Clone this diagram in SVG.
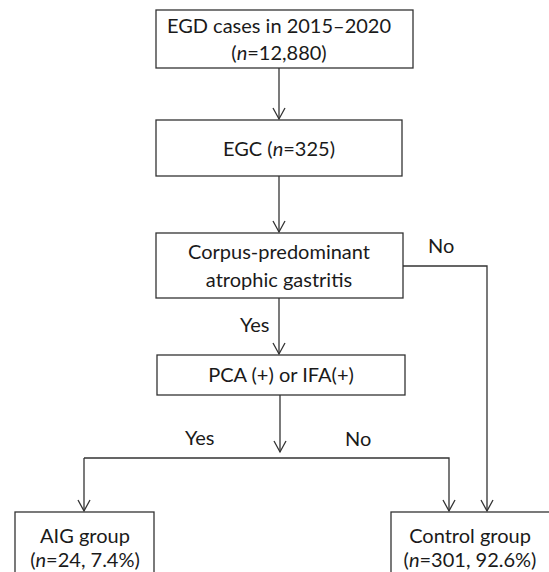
<svg xmlns="http://www.w3.org/2000/svg" width="549" height="572" viewBox="0 0 549 572">
<defs>
<style>
.box{fill:#fff;stroke:#333;stroke-width:1.3}
.ln{fill:none;stroke:#333;stroke-width:1.3}
text{font-family:Lato,"Open Sans",sans-serif;font-size:20px;fill:#1a1a1a;text-anchor:middle}
.lbl{text-anchor:start}
</style>
<marker id="arr" markerWidth="14" markerHeight="14" refX="12" refY="7" orient="auto" markerUnits="userSpaceOnUse">
<path d="M1,1 L12,7 L1,13" fill="none" stroke="#333" stroke-width="1.3"/>
</marker>
</defs>
<rect width="549" height="572" fill="#fff"/>
<g id="connectors">
<line class="ln" x1="279" y1="68" x2="279" y2="119" marker-end="url(#arr)"/>
<line class="ln" x1="279" y1="176" x2="279" y2="232" marker-end="url(#arr)"/>
<line class="ln" x1="279" y1="298" x2="279" y2="354" marker-end="url(#arr)"/>
<polyline class="ln" points="403,266 487,266 487,511" marker-end="url(#arr)"/>
<line class="ln" x1="280" y1="395" x2="280" y2="452" marker-end="url(#arr)"/>
<polyline class="ln" points="84,458 449,458 449,511" marker-end="url(#arr)"/>
<line class="ln" x1="84" y1="458" x2="84" y2="511" marker-end="url(#arr)"/>
<text class="lbl" x="428" y="253">No</text>
<text class="lbl" x="240" y="332">Yes</text>
<text class="lbl" x="185" y="445">Yes</text>
<text class="lbl" x="345" y="446">No</text>
</g>
<g id="n1">
<rect class="box" x="156" y="10" width="257" height="58"/>
<text x="279" y="33">EGD cases in 2015–2020</text>
<text x="279" y="60">(<tspan font-style="italic">n</tspan>=12,880)</text>
</g>
<g id="n2">
<rect class="box" x="156" y="120" width="246" height="56"/>
<text x="279" y="156">EGC (<tspan font-style="italic">n</tspan>=325)</text>
</g>
<g id="n3">
<rect class="box" x="156" y="233" width="247" height="65"/>
<text x="279" y="259">Corpus-predominant</text>
<text x="279" y="287">atrophic gastritis</text>
</g>
<g id="n4">
<rect class="box" x="157" y="355" width="248" height="40"/>
<text x="281" y="382">PCA (+) or IFA(+)</text>
</g>
<g id="n5">
<rect class="box" x="15" y="512" width="139" height="70"/>
<text x="85" y="543">AIG group</text>
<text x="85" y="567">(<tspan font-style="italic">n</tspan>=24, 7.4%)</text>
</g>
<g id="n6">
<rect class="box" x="391" y="512" width="170" height="70"/>
<text x="470" y="543">Control group</text>
<text x="470" y="567">(<tspan font-style="italic">n</tspan>=301, 92.6%)</text>
</g>
</svg>
